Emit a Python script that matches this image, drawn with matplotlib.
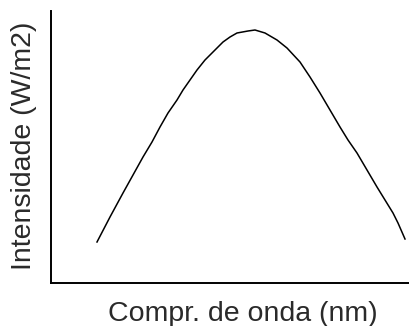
import matplotlib
matplotlib.use("Agg")
import matplotlib.pyplot as plt

# wavelength / intensity (arbitrary units, no ticks shown)
wavelength = [46, 59, 72, 82, 92, 101, 109, 117, 126, 132, 139, 146, 154, 162,
              172, 179, 186, 197, 204, 214, 226, 236, 249, 259, 269, 279, 289,
              297, 306, 316, 326, 334, 342, 347, 354]
intensity = [41, 66, 90, 108, 126, 141, 156, 170, 183, 193, 203, 213, 223, 231,
             241, 246, 250, 252, 253, 250, 243, 235, 221, 206, 190, 173, 156,
             143, 130, 113, 96, 83, 70, 60, 44]

x_label = "Compr. de onda (nm)"
y_label = "Intensidade (W/m2)"

plt.rcParams["font.family"] = ["Liberation Sans", "DejaVu Sans"]

fig = plt.figure(figsize=(4.09, 3.26), dpi=100)
ax = fig.add_axes([51 / 409, 43 / 326, 358 / 409, 272 / 326])

ax.plot(wavelength, intensity, color="black", linewidth=1.1)
ax.set_xlim(0, 358)
ax.set_ylim(0, 272)

ax.set_xticks([])
ax.set_yticks([])
ax.spines["top"].set_visible(False)
ax.spines["right"].set_visible(False)
ax.spines["left"].set_linewidth(1.4)
ax.spines["bottom"].set_linewidth(1.4)

fig.text(242.5 / 409, 5 / 326, x_label, ha="center", va="baseline",
         fontsize=20.5, color="#2a2a2a")
fig.text(24 / 409, 1 - 146 / 326, y_label, ha="center", va="center",
         rotation=90, fontsize=20.5, color="#2a2a2a")

fig.savefig("out.png", dpi=100)
